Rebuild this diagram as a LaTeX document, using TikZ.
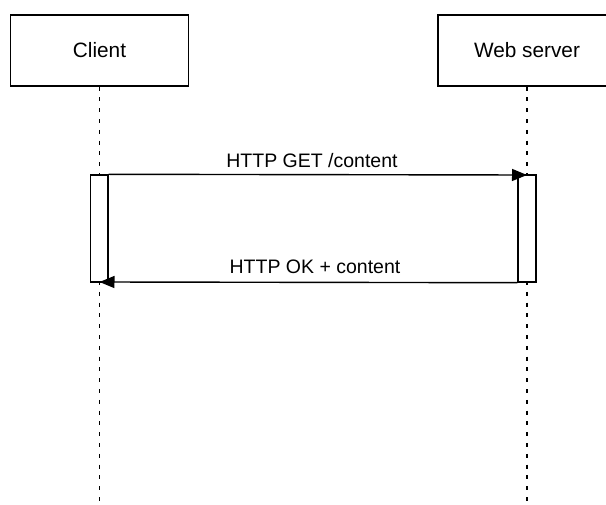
\documentclass[tikz,border=0pt]{standalone}
\usepackage{fontspec}
\setmainfont{Liberation Sans}
\usetikzlibrary{arrows.meta}
\begin{document}
\begin{tikzpicture}[x=1pt,y=-1pt,
  actor/.style={draw,line width=1.4pt,fill=white,minimum width=178pt,minimum height=71pt,inner sep=0pt,font=\fontsize{20.8}{24}\selectfont},
  lifeline/.style={line width=1.4pt,dash pattern=on 4pt off 6.8pt},
  activation/.style={draw,line width=1.4pt,fill=white},
  msg/.style={line width=1.4pt,-{Triangle[length=15pt,width=12pt]}},
  msglabel/.style={font=\fontsize{19.5}{23}\selectfont,inner sep=0pt}]
  \useasboundingbox (0,0) rectangle (606,505);
  \clip (0,0) rectangle (606,505);

  % participants
  \node[actor] (client) at (99.5,50.5) {Client};
  \node[actor] (server) at (527,50.5) {Web server};

  % lifelines
  \coordinate (clientEnd) at (99.5,505);
  \coordinate (serverEnd) at (527,505);
  \draw[lifeline] (client.south) -- (clientEnd);
  \draw[lifeline] (server.south) -- (serverEnd);

  % activation bars
  \node[activation,minimum width=17.5pt,minimum height=107pt,inner sep=0pt] (actC) at (99.25,228.5) {};
  \node[activation,minimum width=18pt,minimum height=107pt,inner sep=0pt] (actS) at (527,228.5) {};

  % messages
  \coordinate (reqEnd) at (527,175);
  \coordinate (respEnd) at (99.5,282);
  \draw[msg] (actC.north east) -- (reqEnd);
  \draw[msg] (actS.south west) -- (respEnd);
  \node[msglabel] (reqLabel) at (312,161) {HTTP GET /content};
  \node[msglabel] (respLabel) at (315,267) {HTTP OK + content};
\end{tikzpicture}
\end{document}
